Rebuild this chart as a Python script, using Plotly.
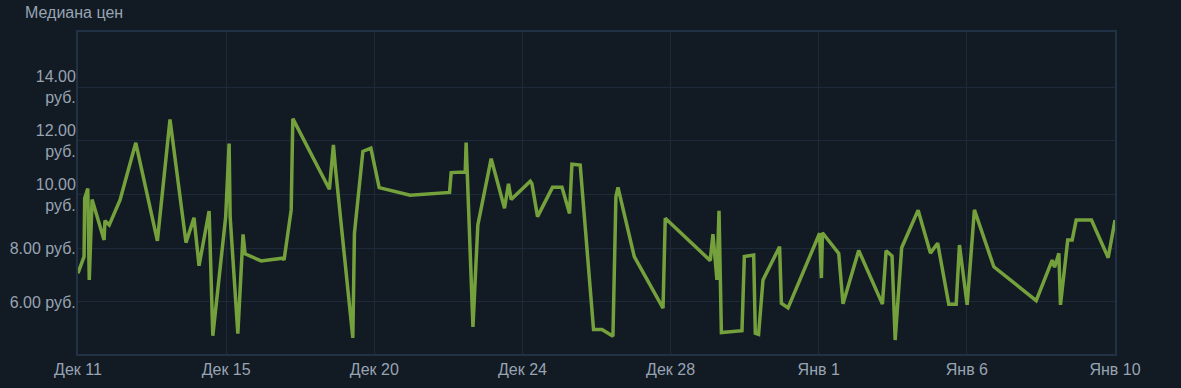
import plotly.graph_objects as go

# x positions expressed in tick-interval units (0 = "Дек 11", 7 = "Янв 10")
x_pos = [0.000, 0.041, 0.045, 0.066, 0.076, 0.095, 0.176, 0.182, 0.211, 0.284,
         0.390, 0.536, 0.621, 0.729, 0.783, 0.817, 0.885, 0.910, 0.997, 1.020,
         1.027, 1.079, 1.114, 1.128, 1.236, 1.382, 1.391, 1.439, 1.450, 1.697,
         1.724, 1.738, 1.855, 1.866, 1.923, 1.977, 2.033, 2.242, 2.508, 2.519,
         2.614, 2.620, 2.666, 2.699, 2.789, 2.879, 2.906, 2.924, 3.053, 3.064,
         3.102, 3.203, 3.267, 3.318, 3.334, 3.390, 3.480, 3.537, 3.611, 3.631,
         3.645, 3.755, 3.949, 3.964, 4.268, 4.286, 4.313, 4.327, 4.343, 4.482,
         4.498, 4.561, 4.572, 4.594, 4.624, 4.736, 4.748, 4.793, 5.006, 5.018,
         5.025, 5.135, 5.164, 5.270, 5.430, 5.455, 5.495, 5.516, 5.560, 5.671,
         5.754, 5.803, 5.878, 5.928, 5.950, 6.002, 6.051, 6.182, 6.468, 6.576,
         6.592, 6.621, 6.632, 6.681, 6.711, 6.738, 6.841, 6.954, 7.000]

median_price = [7.07, 7.69, 9.86, 10.23, 6.82, 9.82, 8.31, 9.03, 8.87, 9.80,
                11.93, 8.28, 12.80, 8.21, 9.14, 7.35, 9.39, 4.74, 9.18, 11.90,
                9.18, 4.82, 8.52, 7.79, 7.53, 7.63, 7.56, 9.43, 12.83, 10.20,
                11.85, 10.98, 4.66, 8.56, 11.61, 11.73, 10.26, 9.98, 10.08, 10.82,
                10.84, 11.94, 5.07, 8.87, 11.34, 9.49, 10.40, 9.82, 10.50, 10.41,
                9.18, 10.27, 10.27, 9.30, 11.13, 11.10, 4.97, 4.97, 4.72, 9.92,
                10.27, 7.69, 5.77, 9.12, 7.54, 8.53, 6.82, 9.40, 4.86, 4.93,
                7.69, 7.75, 4.83, 4.79, 6.82, 8.06, 5.95, 5.78, 8.56, 6.89,
                8.58, 7.81, 5.93, 7.92, 5.92, 7.91, 7.71, 4.58, 8.02, 9.42,
                7.82, 8.19, 5.91, 5.91, 8.12, 5.89, 9.43, 7.31, 6.05, 7.56,
                7.29, 7.81, 5.89, 8.31, 8.31, 9.05, 9.05, 7.65, 9.05]

x_tick_vals = [0, 1, 2, 3, 4, 5, 6, 7]
x_tick_text = ["Дек 11", "Дек 15", "Дек 20", "Дек 24", "Дек 28", "Янв 1", "Янв 6", "Янв 10"]

y_tick_vals = [6, 8, 10, 12, 14]
y_tick_text = ["6.00 руб.", "8.00 руб.", "10.00<br>руб.", "12.00<br>руб.", "14.00<br>руб."]

title_text = "Медиана цен"

BG = "#121a24"
GRID = "#1d2a3a"
FRAME = "#213246"
TEXT = "#98a4b2"
LINE = "#75a13c"

fig = go.Figure()
fig.add_trace(go.Scatter(
    x=x_pos, y=median_price, mode="lines",
    line=dict(color=LINE, width=3.5),
    hoverinfo="skip", showlegend=False,
))

fig.update_layout(
    width=1181, height=388,
    margin=dict(l=78, r=66, t=32, b=34, autoexpand=False),
    paper_bgcolor=BG, plot_bgcolor=BG,
    font=dict(family="Liberation Sans, Arial, sans-serif", color=TEXT, size=16),
    annotations=[dict(
        text=title_text, xref="paper", yref="paper",
        x=(23 - 78) / 1037, y=1 + 20/322, xanchor="left", yanchor="middle",
        showarrow=False, font=dict(size=16, color=TEXT),
    )],
)

fig.update_xaxes(
    range=[0, 7], tickvals=x_tick_vals, ticktext=x_tick_text,
    showgrid=True, gridcolor=GRID, gridwidth=1,
    showline=True, linecolor=FRAME, linewidth=2, mirror=True,
    zeroline=False, ticks="", tickfont=dict(size=16, color=TEXT),
    automargin=False,
)
fig.update_yaxes(
    range=[4.06, 16.06], tickvals=y_tick_vals, ticktext=y_tick_text,
    showgrid=True, gridcolor=GRID, gridwidth=1,
    showline=True, linecolor=FRAME, linewidth=2, mirror=True,
    zeroline=False, ticks="", tickfont=dict(size=16, color=TEXT),
    ticklabelstandoff=-3, automargin=False,
)

fig.write_html("out.html")
